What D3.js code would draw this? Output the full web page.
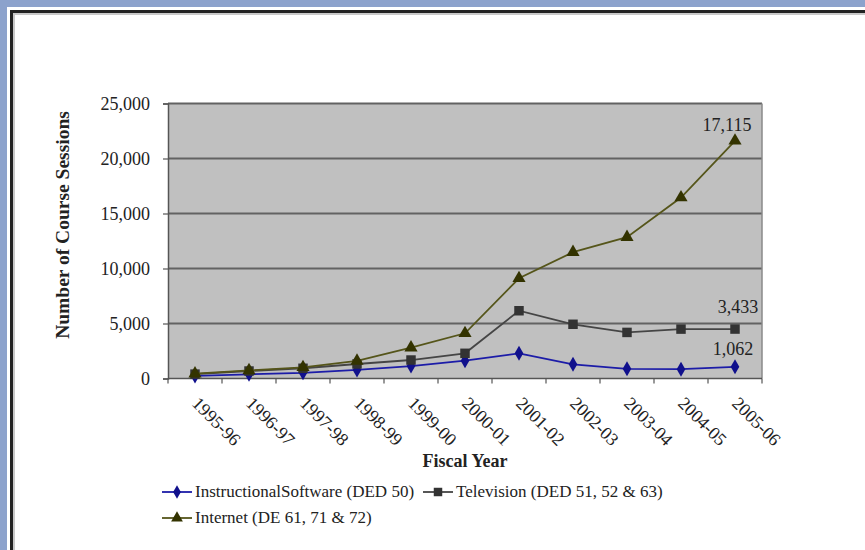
<!DOCTYPE html>
<html>
<head>
<meta charset="utf-8">
<script src="https://cdn.jsdelivr.net/npm/d3@7/dist/d3.min.js"></script>
<style>
  html, body { margin: 0; padding: 0; background: #ffffff; }
  svg { display: block; }
  text { font-family: "Liberation Serif", "Times New Roman", serif; fill: #222; }
</style>
</head>
<body>
<svg id="chart" width="865" height="550"></svg>
<script>
// Fiscal years on the category axis
const years = ["1995-96", "1996-97", "1997-98", "1998-99", "1999-00", "2000-01",
               "2001-02", "2002-03", "2003-04", "2004-05", "2005-06"];

// Course sessions per delivery method (stacked from the bottom up)
const software   = [230, 380, 520, 780, 1130, 1620, 2290, 1290, 880, 850, 1062];
const television = [170, 300, 410, 540, 550, 670, 3870, 3640, 3310, 3640, 3433];
const internet   = [40, 60, 90, 280, 1120, 1820, 2950, 6550, 8660, 11960, 17115];

const yTicks = [0, 5000, 10000, 15000, 20000, 25000];

const seriesNames = [
  "InstructionalSoftware (DED 50)",
  "Television (DED 51, 52 & 63)",
  "Internet (DE 61, 71 & 72)"
];

const svg = d3.select("#chart");

// Page frame: blue band and a dark inset border
svg.append("rect").attr("x", 0).attr("y", 0).attr("width", 865).attr("height", 7).attr("fill", "#8ca2cc");
svg.append("rect").attr("x", 0).attr("y", 0).attr("width", 7).attr("height", 550).attr("fill", "#8ca2cc");
svg.append("rect").attr("x", 10).attr("y", 10).attr("width", 855).attr("height", 3).attr("fill", "#222");
svg.append("rect").attr("x", 10).attr("y", 10).attr("width", 3).attr("height", 540).attr("fill", "#222");
svg.append("rect").attr("x", 13).attr("y", 13).attr("width", 852).attr("height", 2).attr("fill", "#c8c8c8");
svg.append("rect").attr("x", 13).attr("y", 13).attr("width", 2).attr("height", 537).attr("fill", "#c8c8c8");

const plot = { left: 168, right: 762, top: 103.5, bottom: 378.5 };

const x = d3.scaleBand().domain(years).range([plot.left, plot.right]).padding(0);
const y = d3.scaleLinear().domain([0, 25000]).range([plot.bottom, plot.top]);
const cx = d => x(d) + x.bandwidth() / 2;

// Stack the three series
const table = years.map((yr, i) => ({ year: yr, software: software[i], television: television[i], internet: internet[i] }));
const stacked = d3.stack().keys(["software", "television", "internet"])(table);

// Plot background
svg.append("rect")
  .attr("x", plot.left).attr("y", plot.top)
  .attr("width", plot.right - plot.left).attr("height", plot.bottom - plot.top)
  .attr("fill", "#c0c0c0");

// Horizontal gridlines
svg.append("g").selectAll("line").data(yTicks.filter(t => t > 0)).join("line")
  .attr("x1", plot.left).attr("x2", plot.right)
  .attr("y1", d => y(d)).attr("y2", d => y(d))
  .attr("stroke", "#626262").attr("stroke-width", 2);

// Right border of plot
svg.append("line")
  .attr("x1", plot.right).attr("x2", plot.right).attr("y1", plot.top).attr("y2", plot.bottom)
  .attr("stroke", "#8a8a8a").attr("stroke-width", 1.5);

// Y axis
const yAxis = d3.axisLeft(y).tickValues(yTicks).tickSize(5).tickPadding(13)
  .tickFormat(d3.format(","));
const gy = svg.append("g").attr("transform", `translate(${plot.left},0)`).call(yAxis);
gy.attr("font-family", null).attr("font-size", null);
gy.select(".domain").attr("stroke", "#555").attr("stroke-width", 1.5);
gy.selectAll(".tick line").attr("stroke", "#555").attr("stroke-width", 1.2);
gy.selectAll(".tick text").attr("font-size", 18).attr("fill", "#222");

// X axis: ticks at category boundaries
const xAxisG = svg.append("g").attr("transform", `translate(0,${plot.bottom})`);
xAxisG.append("line").attr("x1", plot.left).attr("x2", plot.right).attr("y1", 0).attr("y2", 0)
  .attr("stroke", "#555").attr("stroke-width", 1.5);
const bounds = years.map(d => x(d)).concat([plot.right]);
xAxisG.selectAll("line.tk").data(bounds).join("line").attr("class", "tk")
  .attr("x1", d => d).attr("x2", d => d).attr("y1", 0).attr("y2", 5)
  .attr("stroke", "#555").attr("stroke-width", 1.2);
xAxisG.selectAll("text").data(years).join("text")
  .attr("transform", d => `translate(${cx(d) - 4},${26}) rotate(45)`)
  .attr("font-size", 18).attr("fill", "#222")
  .text(d => d);

// Axis titles
svg.append("text")
  .attr("transform", `translate(69,225) rotate(-90)`)
  .attr("text-anchor", "middle").attr("font-size", 19.5).attr("font-weight", "bold")
  .text("Number of Course Sessions");
svg.append("text")
  .attr("x", 465).attr("y", 467)
  .attr("text-anchor", "middle").attr("font-size", 18).attr("font-weight", "bold")
  .text("Fiscal Year");

// Series styles
const styles = [
  { line: "#1c1ca8", fill: "#10108c", shape: d3.symbolDiamond, size: 65 },
  { line: "#454545", fill: "#333333", shape: d3.symbolSquare, size: 90 },
  { line: "#55551a", fill: "#333300", shape: d3.symbolTriangle, size: 75 }
];

const line = d3.line().x(d => cx(d.data.year)).y(d => y(d[1]));

stacked.forEach((s, i) => {
  const st = styles[i];
  svg.append("path").datum(s)
    .attr("fill", "none").attr("stroke", st.line).attr("stroke-width", 1.8)
    .attr("d", line);
  svg.append("g").selectAll("path").data(s).join("path")
    .attr("transform", d => `translate(${cx(d.data.year)},${y(d[1])})`)
    .attr("d", d3.symbol().type(st.shape).size(st.size))
    .attr("fill", st.fill);
});

// Value labels on the last point of each series
const last = years.length - 1;
const labelVals = [software[last], television[last], internet[last]];
const labelDx = [-2, 3, -8];
const labelDy = [-12, -16, -10];
stacked.forEach((s, i) => {
  const d = s[last];
  svg.append("text")
    .attr("x", cx(d.data.year) + labelDx[i])
    .attr("y", y(d[1]) + labelDy[i])
    .attr("text-anchor", "middle").attr("font-size", 18).attr("fill", "#333")
    .text(d3.format(",")(labelVals[i]));
});

// Legend
const legendItems = [
  { x: 162, y: 492, i: 0 },
  { x: 423, y: 492, i: 1 },
  { x: 162, y: 518, i: 2 }
];
legendItems.forEach(it => {
  const st = styles[it.i];
  const g = svg.append("g").attr("transform", `translate(${it.x},${it.y})`);
  g.append("line").attr("x1", 0).attr("x2", 30).attr("y1", 0).attr("y2", 0)
    .attr("stroke", st.line).attr("stroke-width", 1.8);
  g.append("path").attr("transform", "translate(15,0)")
    .attr("d", d3.symbol().type(st.shape).size(st.size * 0.8)).attr("fill", st.fill);
  g.append("text").attr("x", 33).attr("y", 0).attr("dy", "0.32em")
    .attr("font-size", 17).attr("fill", "#222")
    .text(seriesNames[it.i]);
});

// Serif face throughout
svg.selectAll("text").attr("font-family", "Liberation Serif, Times New Roman, serif");
</script>
</body>
</html>
